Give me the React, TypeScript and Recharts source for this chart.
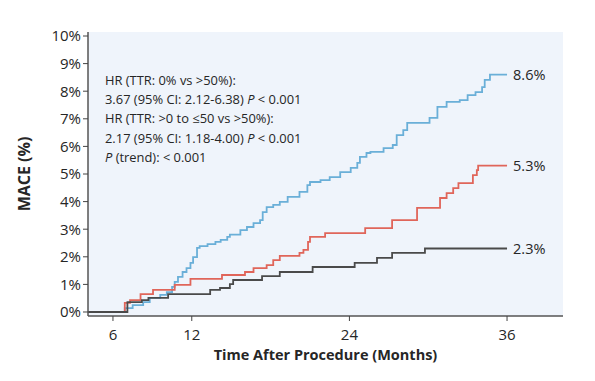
import React from 'react';
import { LineChart, Line, XAxis, YAxis, CartesianGrid, Label } from 'recharts';

// months / cumulative MACE (%) step points
const blueMonths = [4.1, 6.5, 6.9, 7.5, 8.3, 8.8, 9.6, 10.1, 10.5, 10.7, 10.95, 11.3, 11.6, 11.9, 12.1, 12.4, 12.6, 13.2, 13.8, 14.2, 14.7, 14.9, 15.7, 16.2, 16.7, 17.2, 17.4, 17.7, 18.2, 18.7, 19.3, 20.2, 20.8, 21.0, 21.8, 22.5, 23.3, 24.1, 24.6, 24.8, 25.3, 25.6, 26.6, 27.3, 27.6, 28.1, 28.4, 30.1, 30.7, 31.4, 32.4, 33.0, 33.6, 34.1, 34.3, 34.7, 36];
const blueValues = [0, 0, 0.14, 0.25, 0.36, 0.51, 0.62, 0.72, 0.91, 1.09, 1.27, 1.45, 1.59, 1.78, 1.99, 2.32, 2.39, 2.46, 2.54, 2.61, 2.72, 2.8, 2.97, 3.08, 3.22, 3.33, 3.62, 3.8, 3.88, 3.99, 4.17, 4.35, 4.6, 4.71, 4.78, 4.89, 5.07, 5.22, 5.4, 5.62, 5.76, 5.8, 5.94, 6.05, 6.41, 6.59, 6.85, 7.03, 7.43, 7.61, 7.68, 7.86, 7.97, 8.15, 8.41, 8.6, 8.6];

const redMonths = [4.1, 6.5, 6.9, 7.3, 8.1, 9.05, 10.7, 11.9, 14.3, 16.05, 16.7, 17.7, 18.2, 18.7, 20.2, 20.5, 20.85, 21.0, 22.15, 25.2, 27.25, 29.15, 30.9, 31.4, 31.9, 32.3, 33.4, 33.7, 33.8, 36];
const redValues = [0, 0, 0.33, 0.43, 0.65, 0.8, 0.98, 1.2, 1.34, 1.45, 1.59, 1.7, 1.88, 2.03, 2.14, 2.25, 2.54, 2.72, 2.86, 3.04, 3.33, 3.77, 4.13, 4.31, 4.49, 4.67, 4.96, 5.14, 5.3, 5.3];

const grayMonths = [4.1, 6.5, 7.1, 8.2, 8.7, 10.2, 13.4, 14.15, 14.9, 15.15, 17.35, 18.7, 21.2, 24.4, 26.1, 27.25, 29.75, 36];
const grayValues = [0, 0, 0.36, 0.43, 0.51, 0.65, 0.8, 0.87, 1.01, 1.16, 1.3, 1.45, 1.63, 1.78, 1.96, 2.14, 2.3, 2.3];

const endLabels = ['8.6%', '5.3%', '2.3%'];
const xTicks = [6, 12, 24, 36];
const yTicks = [0, 1, 2, 3, 4, 5, 6, 7, 8, 9, 10];

const toRows = (months: number[], values: number[]) =>
    months.map((m, i) => ({ month: m, value: values[i] }));

const blueData = toRows(blueMonths, blueValues);
const redData = toRows(redMonths, redValues);
const grayData = toRows(grayMonths, grayValues);

const font = '"Open Sans", "Noto Sans", sans-serif';
const ink = '#262626';

const endLabel = (count: number, text: string) => (p: any) => {
    if (p.index !== count - 1) return <g key={p.index} />;
    return (
        <text key={p.index} x={p.x + 6} y={p.y} dy={5} fontSize={14.5} fill={ink} fontFamily={font}>
            {text}
        </text>
    );
};

export default function App() {
    return (
        <div style={{ position: 'absolute', left: 0, top: 0, width: 595, height: 381, background: '#fff', fontFamily: font }}>
            <LineChart
                width={595}
                height={381}
                margin={{ top: 32, right: 32, bottom: 17, left: 28 }}
            >
                <CartesianGrid fill="#eff4fb" stroke="none" />
                <XAxis
                    type="number"
                    dataKey="month"
                    domain={[4.1, 40.26]}
                    ticks={xTicks}
                    allowDataOverflow
                    height={48}
                    tick={{ fontSize: 15, fill: ink, fontFamily: font, dy: 6 }}
                    tickSize={5}
                    tickLine={{ stroke: '#444' }}
                    axisLine={{ stroke: '#555', strokeWidth: 1.5 }}
                >
                    <Label
                        value="Time After Procedure (Months)"
                        position="insideBottom"
                        offset={4}
                        style={{ fontSize: 14.5, fontWeight: 700, fill: ink, fontFamily: font }}
                    />
                </XAxis>
                <YAxis
                    type="number"
                    domain={[-0.145, 10.145]}
                    ticks={yTicks}
                    allowDataOverflow
                    width={60}
                    tickFormatter={(v) => `${v}%`}
                    tick={{ fontSize: 15, fill: ink, fontFamily: font }}
                    tickSize={5}
                    tickLine={{ stroke: '#444' }}
                    axisLine={{ stroke: '#555', strokeWidth: 1.5 }}
                >
                    <Label
                        value="MACE (%)"
                        angle={-90}
                        position="insideLeft"
                        offset={-4}
                        style={{ fontSize: 16, fontWeight: 700, fill: ink, fontFamily: font, textAnchor: 'middle' }}
                    />
                </YAxis>
                <Line
                    data={blueData}
                    dataKey="value"
                    type="stepAfter"
                    stroke="#6aafd8"
                    strokeWidth={1.8}
                    dot={false}
                    isAnimationActive={false}
                    label={endLabel(blueData.length, endLabels[0])}
                />
                <Line
                    data={redData}
                    dataKey="value"
                    type="stepAfter"
                    stroke="#e0655a"
                    strokeWidth={1.8}
                    dot={false}
                    isAnimationActive={false}
                    label={endLabel(redData.length, endLabels[1])}
                />
                <Line
                    data={grayData}
                    dataKey="value"
                    type="stepAfter"
                    stroke="#4a4a4a"
                    strokeWidth={1.8}
                    dot={false}
                    isAnimationActive={false}
                    label={endLabel(grayData.length, endLabels[2])}
                />
            </LineChart>
            <div
                style={{
                    position: 'absolute',
                    left: 105,
                    top: 71,
                    fontSize: 12.9,
                    lineHeight: '19.2px',
                    color: ink,
                    whiteSpace: 'nowrap',
                }}
            >
                <div>HR (TTR: 0% vs &gt;50%):</div>
                <div>3.67 (95% CI: 2.12-6.38) <i>P</i> &lt; 0.001</div>
                <div>HR (TTR: &gt;0 to ≤50 vs &gt;50%):</div>
                <div>2.17 (95% CI: 1.18-4.00) <i>P</i> &lt; 0.001</div>
                <div><i>P</i> (trend): &lt; 0.001</div>
            </div>
        </div>
    );
}
